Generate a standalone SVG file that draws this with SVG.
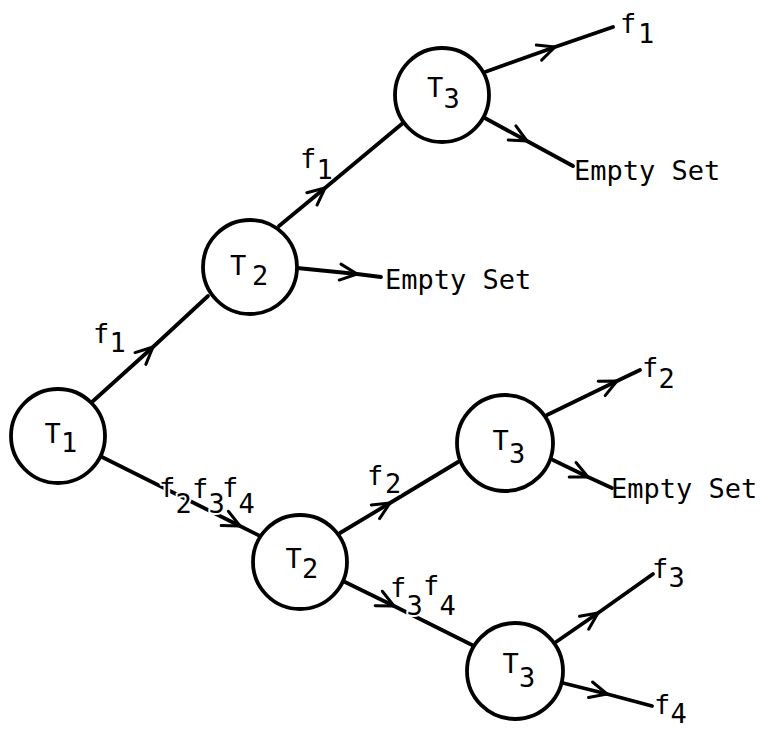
<svg xmlns="http://www.w3.org/2000/svg" width="763" height="729" viewBox="0 0 763 729">
  <style>
    .edge { fill: none; stroke: #000; stroke-width: 3.8; stroke-linecap: round; stroke-linejoin: round; marker-mid: url(#chev); }
    .node circle { fill: #fff; stroke: #000; stroke-width: 3.8; }
    text { font-family: "DejaVu Sans Mono", "Liberation Mono", monospace; font-size: 27px; fill: #000; }
    .halo { paint-order: stroke; stroke: #fff; stroke-width: 4; stroke-linejoin: round; }
  </style>
  <defs>
    <!-- open chevron placed at the middle vertex of each connector -->
    <marker id="chev" markerUnits="userSpaceOnUse" markerWidth="30" markerHeight="30" refX="0" refY="0" orient="auto" overflow="visible">
      <path d="M -17 -8 L 0 0 L -17 8" fill="none" stroke="#000" stroke-width="3" stroke-linecap="round" stroke-linejoin="round"/>
    </marker>
  </defs>
  <rect width="763" height="729" fill="#fff"/>

  <g id="connectors">
    <polyline class="edge" points="92,402 153,347 208,296"/>
    <polyline class="edge" points="279,226 325,188 403,123"/>
    <polyline class="edge" points="485,72 555,47 613,27"/>
    <polyline class="edge" points="483,117 527,141 573,166"/>
    <polyline class="edge" points="297,268 357,274 381,277"/>
    <polyline class="edge" points="102,457 240,526 262,537"/>
    <polyline class="edge" points="340,533 390,503 458,462"/>
    <polyline class="edge" points="345,582 394,606 472,645"/>
    <polyline class="edge" points="547,415 617,381 640,370"/>
    <polyline class="edge" points="553,460 588,477 612,488"/>
    <polyline class="edge" points="556,642 598,613 653,574"/>
    <polyline class="edge" points="563,683 607,694 652,706"/>
  </g>

  <g id="node-t1" class="node">
    <circle cx="58" cy="436" r="47"/>
    <text><tspan x="44.5" y="443">T</tspan><tspan x="61" y="452">1</tspan></text>
  </g>
  <g id="node-t2-upper" class="node">
    <circle cx="250" cy="267" r="47"/>
    <text><tspan x="230" y="275">T</tspan><tspan x="252" y="285">2</tspan></text>
  </g>
  <g id="node-t3-top" class="node">
    <circle cx="442" cy="95" r="47"/>
    <text><tspan x="427" y="97">T</tspan><tspan x="443.5" y="108">3</tspan></text>
  </g>
  <g id="node-t2-lower" class="node">
    <circle cx="300" cy="562" r="47"/>
    <text><tspan x="285.5" y="568">T</tspan><tspan x="302" y="578">2</tspan></text>
  </g>
  <g id="node-t3-middle" class="node">
    <circle cx="505" cy="443" r="48"/>
    <text><tspan x="492.5" y="450">T</tspan><tspan x="509" y="463">3</tspan></text>
  </g>
  <g id="node-t3-bottom" class="node">
    <circle cx="515" cy="671" r="48"/>
    <text><tspan x="502.5" y="673">T</tspan><tspan x="519" y="687">3</tspan></text>
  </g>

  <g id="labels">
    <text><tspan x="93" y="343">f</tspan><tspan x="109.5" y="352">1</tspan></text>
    <text><tspan x="300" y="168">f</tspan><tspan x="316.5" y="179">1</tspan></text>
    <text><tspan x="620" y="33">f</tspan><tspan x="638" y="43">1</tspan></text>
    <text x="574" y="180">Empty Set</text>
    <text x="385" y="289">Empty Set</text>
    <text class="halo"><tspan x="159" y="497">f</tspan><tspan x="175.5" y="513">2</tspan><tspan x="192" y="498">f</tspan><tspan x="208.5" y="513">3</tspan><tspan x="222" y="497">f</tspan><tspan x="238.5" y="513">4</tspan></text>
    <text class="halo"><tspan x="367" y="485">f</tspan><tspan x="385" y="493">2</tspan></text>
    <text class="halo"><tspan x="390" y="597">f</tspan><tspan x="406.5" y="615">3</tspan><tspan x="423" y="595">f</tspan><tspan x="439.5" y="615">4</tspan></text>
    <text><tspan x="642" y="377">f</tspan><tspan x="658.5" y="388">2</tspan></text>
    <text x="611" y="498">Empty Set</text>
    <text><tspan x="652" y="578">f</tspan><tspan x="668.5" y="587">3</tspan></text>
    <text><tspan x="654" y="714">f</tspan><tspan x="670.5" y="723">4</tspan></text>
  </g>
</svg>
